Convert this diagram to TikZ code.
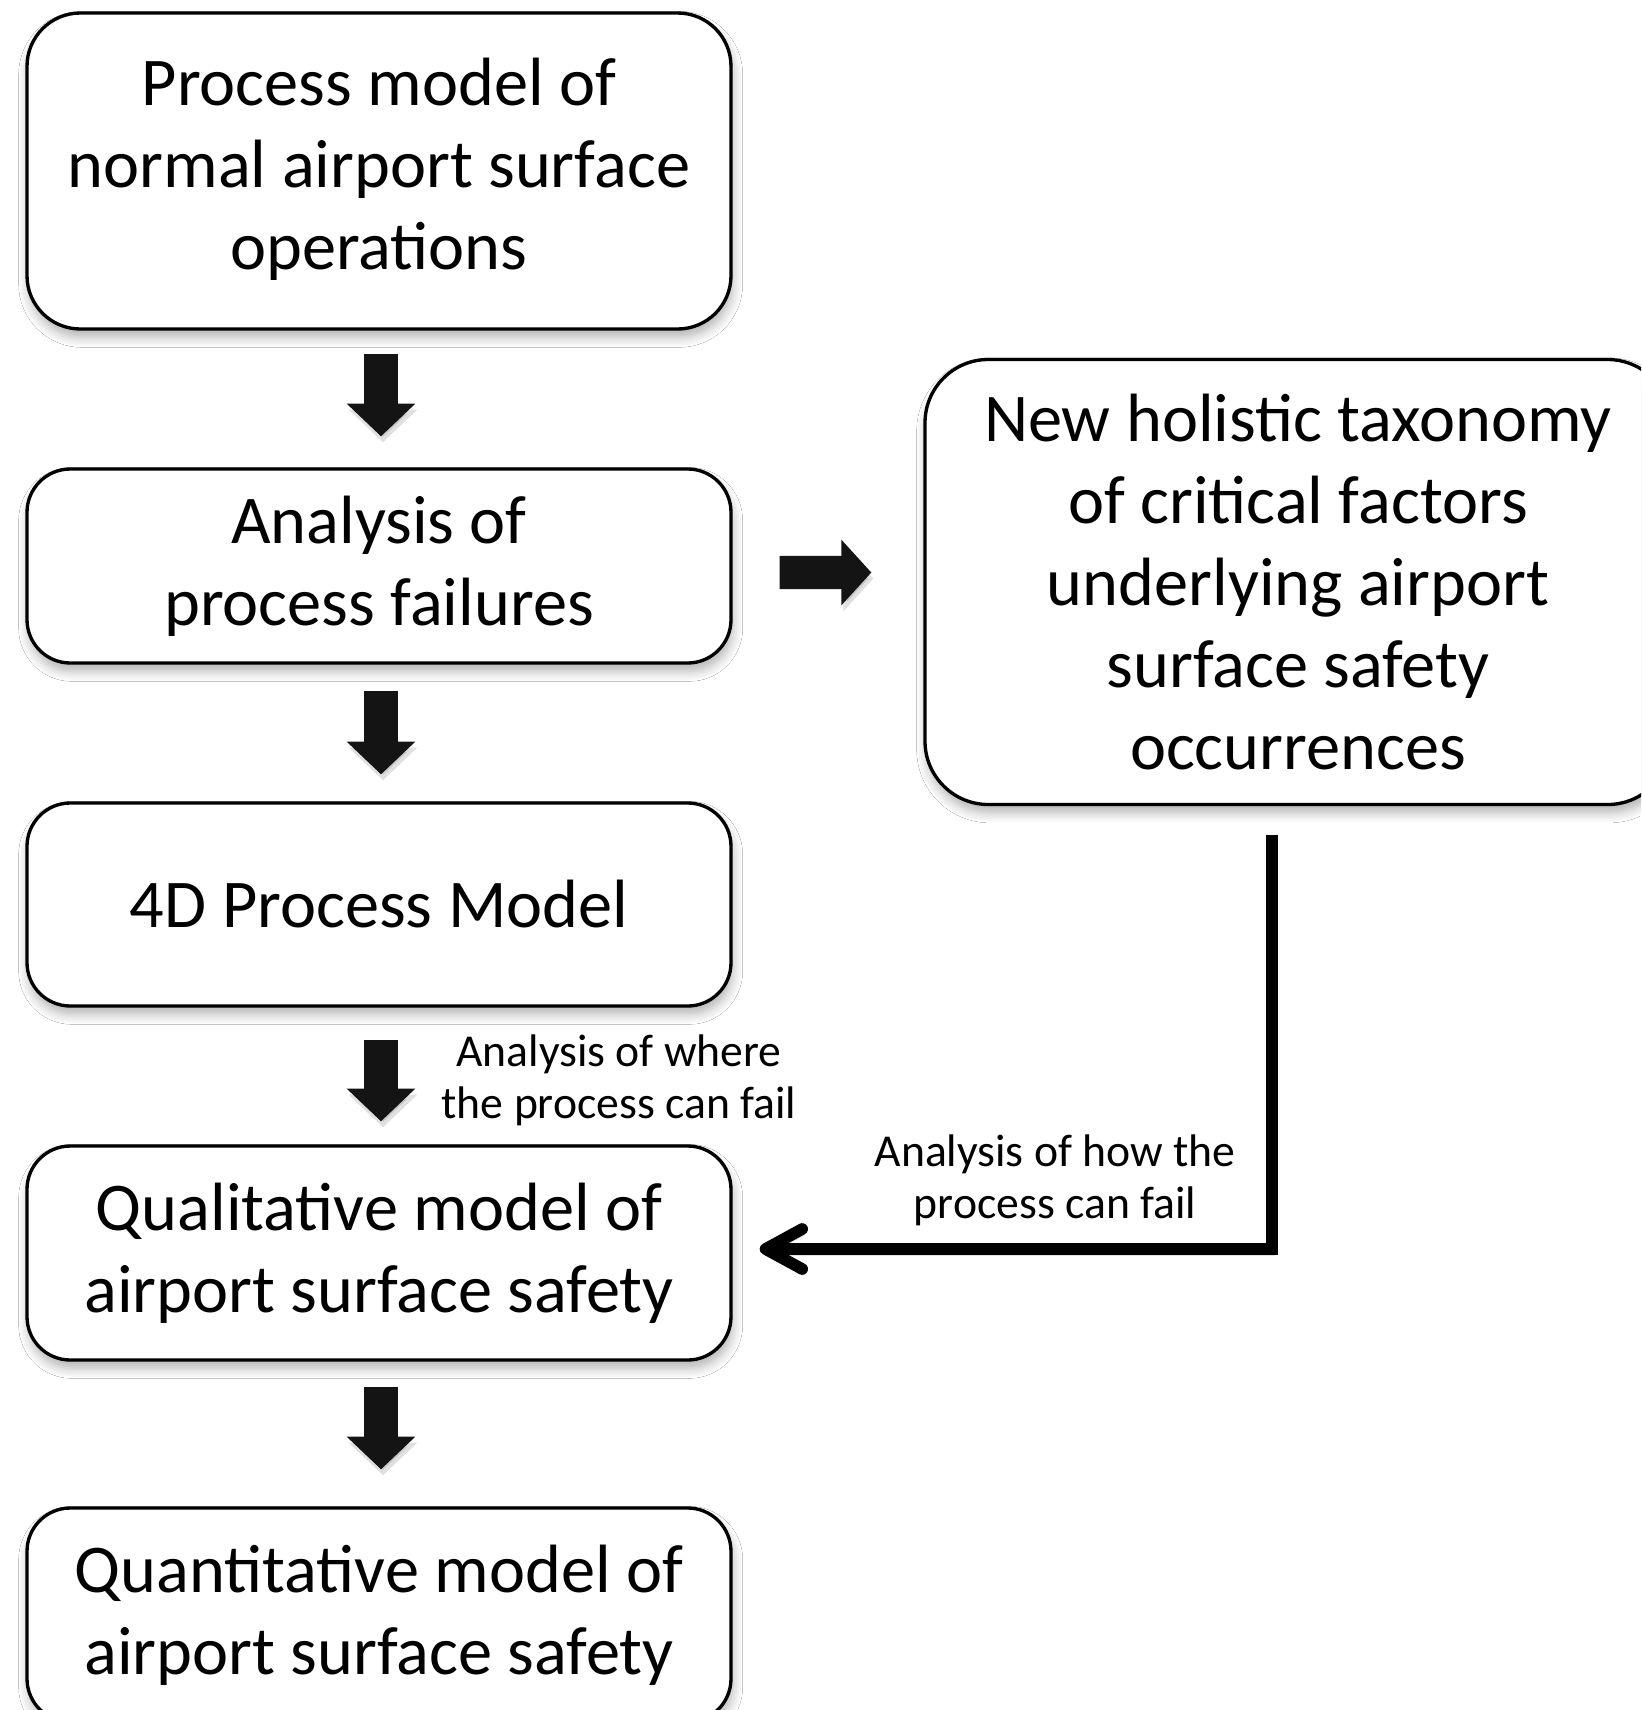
\documentclass[tikz,border=0pt]{standalone}
\usepackage{fontspec}
\setmainfont{Carlito}
\usetikzlibrary{arrows.meta,calc,shadows.blur}
\begin{document}
\begin{tikzpicture}[x=0.3pt,y=-0.3pt,
  box/.style={draw=black, line width=1pt, fill=white, rounded corners=13pt,
    align=center, inner sep=0pt, minimum width=211.2pt,
    font=\fontsize{20.5}{24.6}\selectfont,
    blur shadow={shadow xshift=0.5pt, shadow yshift=-2.5pt, shadow blur steps=6,
      shadow opacity=30, shadow blur radius=3pt}},
  arrowshadow/.style={preaction={draw=black, opacity=0.12,
    transform canvas={xshift=0.6pt, yshift=-1.8pt}}},
  blockarrow/.style={draw=black!92, line width=10.2pt, arrowshadow,
    -{Triangle[length=9.8pt,width=20pt]}},
  rightblock/.style={draw=black!92, line width=10pt, arrowshadow,
    -{Triangle[length=9pt,width=19.2pt]}},
  elbowline/.style={draw=black, line width=3.5pt, line join=miter, arrowshadow,
    -{Straight Barb[length=11pt,width=12pt,line cap=round,line join=round]}},
  lab/.style={align=center, inner sep=0pt, font=\fontsize{13.7}{15.6}\selectfont}
]
\useasboundingbox (0,0) rectangle (1641,1710);
\clip (0,0) rectangle (1641,1710);
\fill[white] (0,0) rectangle (1641,1710);

\node[box, rounded corners=16pt, minimum height=94.8pt] (b1) at (379,171)
  {\raisebox{1.4pt}{\setlength{\tabcolsep}{0pt}\begin{tabular}{c}Process model of\\normal airport surface\\operations\end{tabular}}};
\node[box, minimum height=58.2pt] (b2) at (379,566)
  {Analysis of\\process failures};
\node[box, minimum height=60.9pt] (b3) at (379,904.5)
  {4D Process Model};
\node[box, minimum height=64.2pt] (b4) at (379,1253)
  {Qualitative model of\\airport surface safety};
\node[box, minimum height=64.2pt] (b5) at (379,1615)
  {Quantitative model of\\airport surface safety};
\node[box, rounded corners=19pt, minimum width=223.8pt, minimum height=133.5pt] (tax) at (1298,582)
  {New holistic taxonomy\\of critical factors\\underlying airport\\surface safety\\occurrences};

\draw[blockarrow, shorten <=6.9pt, shorten >=9.3pt] ([xshift=0.6pt]b1.south) -- ([xshift=0.6pt]b2.north);
\draw[blockarrow, shorten <=7.8pt, shorten >=8.1pt] ([xshift=0.6pt]b2.south) -- ([xshift=0.6pt]b3.north);
\draw[blockarrow, shorten <=9.6pt, shorten >=6.9pt] ([xshift=0.6pt]b3.south) -- ([xshift=0.6pt]b4.north);
\draw[blockarrow, shorten <=7.5pt, shorten >=11.1pt] ([xshift=0.6pt]b4.south) -- ([xshift=0.6pt]b5.north);

\draw[rightblock, shorten <=14.1pt, shorten >=15.6pt]
  ([yshift=-1.95pt]b2.east) -- ([yshift=2.85pt]tax.west);

\coordinate (et) at ($(tax.south)+(-26,29)$);
\draw[elbowline, shorten >=8.1pt] (et) |- ([yshift=1.2pt]b4.east);

\node[lab] (l1) at (619,1080) {Analysis of where\\the process can fail};
\node[lab] (l2) at (1055,1180) {Analysis of how the\\process can fail};
\end{tikzpicture}
\end{document}
